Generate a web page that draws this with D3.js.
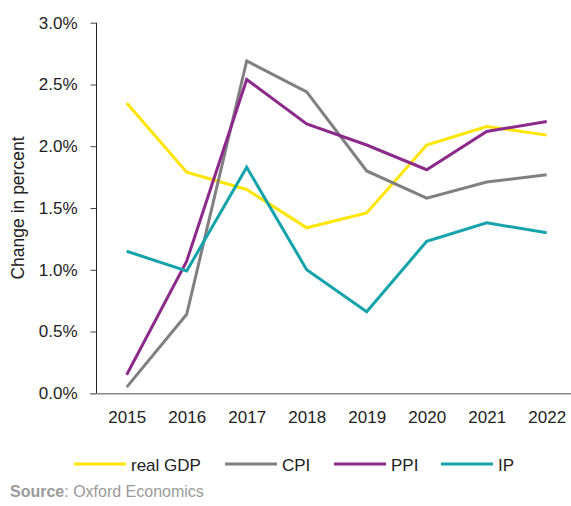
<!DOCTYPE html>
<html lang="en">
<head>
<meta charset="utf-8">
<title>Change in percent</title>
<style>
  * { margin: 0; padding: 0; box-sizing: border-box; }
  body { background: #fff; font-family: "Liberation Sans", Arial, sans-serif; overflow: hidden; }
  svg { display: block; }
  .tick-label { font-size: 17px; fill: #222; }
  .legend-label { font-size: 17px; fill: #222; }
  .source { font-size: 16px; fill: #9a9a9a; }
</style>
</head>
<body>
<svg id="chart" width="571" height="506"></svg>
<script src="https://d3js.org/d3.v7.min.js"></script>
<script>
const years = ["2015", "2016", "2017", "2018", "2019", "2020", "2021", "2022"];
const realGdp = [2.35, 1.79, 1.65, 1.34, 1.46, 2.01, 2.16, 2.09];
const cpi = [0.05, 0.64, 2.69, 2.44, 1.80, 1.58, 1.71, 1.77];
const ppi = [0.15, 1.07, 2.54, 2.18, 2.01, 1.81, 2.12, 2.20];
const ip = [1.15, 0.99, 1.83, 1.00, 0.66, 1.23, 1.38, 1.30];
const yTicks = [0, 0.5, 1, 1.5, 2, 2.5, 3];

const series = [
  { name: "real GDP", values: realGdp, color: "#ffe500" },
  { name: "CPI", values: cpi, color: "#808080" },
  { name: "PPI", values: ppi, color: "#8c2a8c" },
  { name: "IP", values: ip, color: "#14a3aa" }
];

const svg = d3.select("#chart");

const x = d3.scalePoint().domain(years).range([126.7, 546.7]);
const y = d3.scaleLinear().domain([0, 3]).range([393.3, 22.7]);

// y axis
const yAxis = svg.append("g")
  .attr("transform", "translate(96.5,0)")
  .call(d3.axisLeft(y).tickValues(yTicks).tickSize(6).tickPadding(13)
    .tickFormat(d => d.toFixed(1) + "%"));
yAxis.select(".domain").attr("stroke", "#222").attr("d", "M0,22.7V393.3");
yAxis.selectAll(".tick line").attr("stroke", "#444");
yAxis.selectAll(".tick text").attr("class", "tick-label").attr("font-family", null).attr("font-size", null);

// x axis
const xAxis = svg.append("g")
  .attr("transform", "translate(0,393.8)")
  .call(d3.axisBottom(x).tickSize(0).tickPadding(17));
xAxis.select(".domain").attr("stroke", "#888").attr("stroke-width", 1.5).attr("d", "M90,0H571");
xAxis.selectAll(".tick text").attr("class", "tick-label").attr("font-family", null).attr("font-size", null);

// y label
svg.append("text")
  .attr("class", "tick-label")
  .attr("transform", "translate(24,208) rotate(-90)")
  .attr("text-anchor", "middle")
  .style("font-size", "17.5px")
  .text("Change in percent");

// lines
const line = d3.line().x((d, i) => x(years[i])).y(d => y(d));
svg.append("g").selectAll("path")
  .data(series).join("path")
  .attr("fill", "none")
  .attr("stroke", d => d.color)
  .attr("stroke-width", 3)
  .attr("stroke-linejoin", "miter")
  .attr("d", d => line(d.values));

// legend
const legendX = [74, 225, 334, 441];
const legend = svg.append("g").selectAll("g")
  .data(series).join("g")
  .attr("transform", (d, i) => `translate(${legendX[i]},464)`);
legend.append("line")
  .attr("x1", 0).attr("x2", 52).attr("y1", 0).attr("y2", 0)
  .attr("stroke", d => d.color).attr("stroke-width", 3);
legend.append("text")
  .attr("class", "legend-label")
  .attr("x", 57).attr("y", 7)
  .text(d => d.name);

// source
const src = svg.append("text").attr("class", "source").attr("x", 10).attr("y", 497);
src.append("tspan").attr("font-weight", "bold").text("Source");
src.append("tspan").text(": Oxford Economics");
</script>
</body>
</html>
